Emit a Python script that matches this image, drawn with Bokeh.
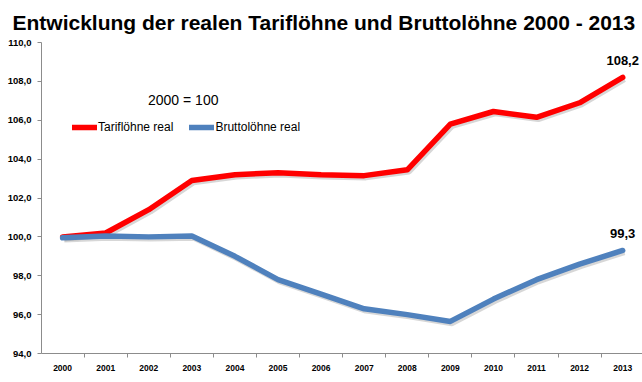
from bokeh.plotting import figure
from bokeh.models import (ColumnDataSource, FixedTicker, Range1d, Legend, LegendItem,
                          Label)
from bokeh.transform import dodge
from bokeh.embed import file_html
from bokeh.resources import INLINE

years = ["2000", "2001", "2002", "2003", "2004", "2005", "2006",
         "2007", "2008", "2009", "2010", "2011", "2012", "2013"]
tarif = [100.0, 100.2, 101.4, 102.9, 103.2, 103.3, 103.2,
         103.15, 103.45, 105.8, 106.45, 106.15, 106.9, 108.2]
brutto = [99.95, 100.05, 100.0, 100.05, 99.0, 97.8, 97.05,
          96.3, 96.0, 95.65, 96.8, 97.8, 98.6, 99.3]
end_labels = ["108,2", "99,3"]
y_ticks = [94, 96, 98, 100, 102, 104, 106, 108, 110]
title_text = "Entwicklung der realen Tariflöhne und Bruttolöhne 2000 - 2013"
base_note = "2000 = 100"
series_names = ["Tariflöhne real", "Bruttolöhne real"]

RED = "#FF0000"
BLUE = "#4F81BD"
AXIS = "#8C8C8C"
FONT = "Liberation Sans"

xs = list(range(len(years)))
src = ColumnDataSource(dict(x=xs, t=tarif, b=brutto))

p = figure(width=642, height=382, output_backend="svg", toolbar_location=None,
           x_range=Range1d(-0.49, 13.46), y_range=Range1d(94, 110),
           min_border_left=41, min_border_right=0, min_border_bottom=29,
           min_border_top=0)
p.title.text = title_text
p.title.text_font = FONT
p.title.text_font_size = "21px"
p.title.text_font_style = "bold"
p.title.text_color = "#000000"
p.title.offset = -29
p.title.standoff = 17

p.outline_line_color = None
p.xgrid.grid_line_color = None
p.ygrid.grid_line_color = None
p.background_fill_color = "white"
p.border_fill_color = "white"

# y axis
p.yaxis.ticker = FixedTicker(ticks=y_ticks, minor_ticks=[])
p.yaxis.major_label_overrides = {v: f"{v},0" for v in y_ticks}
p.yaxis.axis_line_color = AXIS
p.yaxis.major_tick_line_color = AXIS
p.yaxis.major_tick_out = 4
p.yaxis.major_tick_in = 0
p.yaxis.major_label_standoff = 6
p.yaxis.major_label_text_font = FONT
p.yaxis.major_label_text_font_size = "9.5px"
p.yaxis.major_label_text_font_style = "bold"
p.yaxis.major_label_text_color = "#000000"

# x axis
p.xaxis.ticker = FixedTicker(ticks=xs, minor_ticks=[i - 0.5 for i in range(len(years) + 1)])
p.xaxis.major_label_overrides = {i: y for i, y in enumerate(years)}
p.xaxis.axis_line_color = AXIS
p.xaxis.major_tick_line_color = None
p.xaxis.major_tick_out = 0
p.xaxis.major_tick_in = 0
p.xaxis.minor_tick_line_color = AXIS
p.xaxis.minor_tick_out = 4
p.xaxis.minor_tick_in = 0
p.xaxis.major_label_standoff = 7
p.xaxis.major_label_text_font = FONT
p.xaxis.major_label_text_font_size = "8.5px"
p.xaxis.major_label_text_font_style = "bold"
p.xaxis.major_label_text_color = "#000000"

# shadows
p.line(x=dodge("x", 0.04, range=p.x_range), y=dodge("t", -0.09, range=p.y_range), source=src,
       line_color="#7a7a7a", line_alpha=0.3, line_width=6, line_join="round")
p.line(x=dodge("x", 0.04, range=p.x_range), y=dodge("b", -0.09, range=p.y_range), source=src,
       line_color="#7a7a7a", line_alpha=0.3, line_width=6, line_join="round")

r_t = p.line("x", "t", source=src, line_color=RED, line_width=5.5, line_join="round", line_cap="round")
r_b = p.line("x", "b", source=src, line_color=BLUE, line_width=5.5, line_join="round", line_cap="round")

# end labels
for yv, txt in zip([tarif[-1], brutto[-1]], end_labels):
    p.add_layout(Label(x=xs[-1], y=yv, text=txt, y_offset=17,
                       text_align="center", text_baseline="middle",
                       text_font=FONT, text_font_size="13px", text_font_style="bold",
                       text_color="#000000"))

p.add_layout(Label(x=2.8, y=107.05, text=base_note, text_align="center",
                   text_baseline="middle", text_font=FONT, text_font_size="14px",
                   text_color="#000000"))

legend = Legend(items=[LegendItem(label=series_names[0], renderers=[r_t]),
                       LegendItem(label=series_names[1], renderers=[r_b])],
                orientation="horizontal", location=(31, 219),
                padding=0, margin=0, spacing=16, glyph_width=25, glyph_height=12,
                label_height=12, label_standoff=1,
                label_text_font=FONT, label_text_font_size="12px",
                label_text_color="#000000",
                border_line_color=None, background_fill_alpha=0)
p.add_layout(legend)

open("out.html", "w").write(file_html(p, INLINE))
